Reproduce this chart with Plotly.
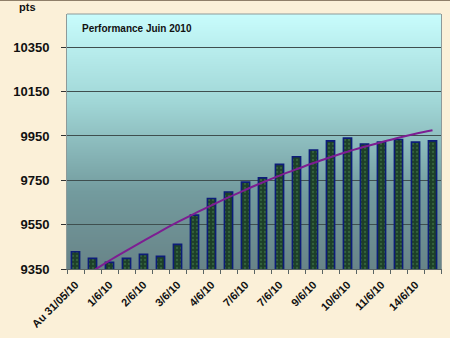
import base64, struct, zlib
import plotly.graph_objects as go

# ---- data ----
values = [9428, 9398, 9380, 9398, 9416, 9407, 9461, 9593, 9668, 9697, 9742,
          9761, 9822, 9856, 9887, 9928, 9940, 9914, 9923, 9934, 9922, 9928]
trend_x = list(range(1, 22))
trend_values = [9340, 9388, 9433, 9477, 9520, 9561, 9600, 9637, 9673, 9707, 9740,
                9771, 9800, 9828, 9854, 9879, 9901, 9922, 9942, 9960, 9976]
label_positions = [0, 2, 4, 6, 8, 10, 12, 14, 16, 18, 20]
tick_labels = ["Au 31/05/10", "1/6/10", "2/6/10", "3/6/10", "4/6/10", "7/6/10",
               "7/6/10", "9/6/10", "10/6/10", "11/6/10", "14/6/10"]
x_idx = list(range(len(values)))

# ---- gradient image for plot background ----
def lerp(a, b, t):
    return tuple(int(round(a[i] + (b[i] - a[i]) * t)) for i in range(3))

stops = [(0.0, (200, 252, 252)), (0.35, (160, 214, 214)), (0.7, (115, 155, 158)), (1.0, (104, 132, 136))]
H = 256
rows = []
for r in range(H):
    t = r / (H - 1)
    for k in range(len(stops) - 1):
        t0, c0 = stops[k]
        t1, c1 = stops[k + 1]
        if t0 <= t <= t1:
            c = lerp(c0, c1, (t - t0) / (t1 - t0))
            break
    rows.append(b"\x00" + bytes(c) * 2)

def chunk(tag, data):
    return struct.pack(">I", len(data)) + tag + data + struct.pack(">I", zlib.crc32(tag + data) & 0xffffffff)

png = b"\x89PNG\r\n\x1a\n" + chunk(b"IHDR", struct.pack(">IIBBBBB", 2, H, 8, 2, 0, 0, 0)) \
    + chunk(b"IDAT", zlib.compress(b"".join(rows))) + chunk(b"IEND", b"")
grad_uri = "data:image/png;base64," + base64.b64encode(png).decode()

FONT = "Liberation Sans, Arial, sans-serif"

fig = go.Figure()
fig.add_trace(go.Bar(
    x=x_idx, y=values, width=0.48,
    marker=dict(color="#1d4028", line=dict(color="#0c1c78", width=1.6),
                pattern=dict(shape=".", fgcolor="#4a8550", bgcolor="#1d4028", size=4, solidity=0.25)),
    showlegend=False, hoverinfo="x+y"))
fig.add_trace(go.Scatter(
    x=trend_x, y=trend_values, mode="lines", line=dict(color="#7d1d92", width=2, shape="spline"),
    showlegend=False, hoverinfo="skip"))

fig.update_layout(
    width=450, height=338,
    margin=dict(l=67, r=9, t=14, b=69),
    paper_bgcolor="#fbf0d8",
    plot_bgcolor="rgba(0,0,0,0)",
    images=[dict(source=grad_uri, xref="paper", yref="paper", x=0, y=1, sizex=1, sizey=1,
                 sizing="stretch", layer="below", xanchor="left", yanchor="top")],
    xaxis=dict(
        range=[-0.5, len(values) - 0.5],
        tickmode="array", tickvals=label_positions, ticktext=tick_labels,
        tickangle=-45, ticks="", showgrid=False, zeroline=False,
        tickfont=dict(family=FONT, size=11, color="#111111", weight="bold"),
        ticklabelstandoff=4,
        showline=True, linecolor="#5a6565", linewidth=1, mirror=False,
        minor=dict(ticks="outside", tick0=-0.5, dtick=1, ticklen=4, tickcolor="#5a6565", tickwidth=1, showgrid=False),
    ),
    yaxis=dict(
        range=[9350, 10500], tick0=9350, dtick=200, tickmode="linear", tickformat="d",
        ticks="outside", ticklen=5, tickcolor="#333333",
        showgrid=True, gridcolor="#3f4f4f", gridwidth=1, zeroline=False,
        tickfont=dict(family=FONT, size=13, color="#111111", weight="bold"),
        showline=True, linecolor="#8d9a9a", linewidth=1, mirror=True,
        ticklabelstandoff=9,
    ),
    annotations=[
        dict(text="pts", xref="paper", yref="paper", x=-0.135, y=1.06, xanchor="left", yanchor="top",
             showarrow=False, font=dict(family=FONT, size=11, color="#111111", weight="bold")),
        dict(text="Performance Juin 2010", xref="paper", yref="paper", x=0.035, y=0.945,
             xanchor="left", yanchor="middle", showarrow=False,
             font=dict(family=FONT, size=10, color="#111111", weight="bold")),
    ],
)
fig.add_shape(type="line", xref="paper", yref="paper", x0=0, x1=1, y0=1, y1=1,
              line=dict(color="#8d9a9a", width=1))
fig.add_shape(type="line", xref="paper", yref="paper", x0=-0.2, x1=1.03, y0=1.055, y1=1.055,
              line=dict(color="#6b5a44", width=1.5))

fig.write_html("out.html")
